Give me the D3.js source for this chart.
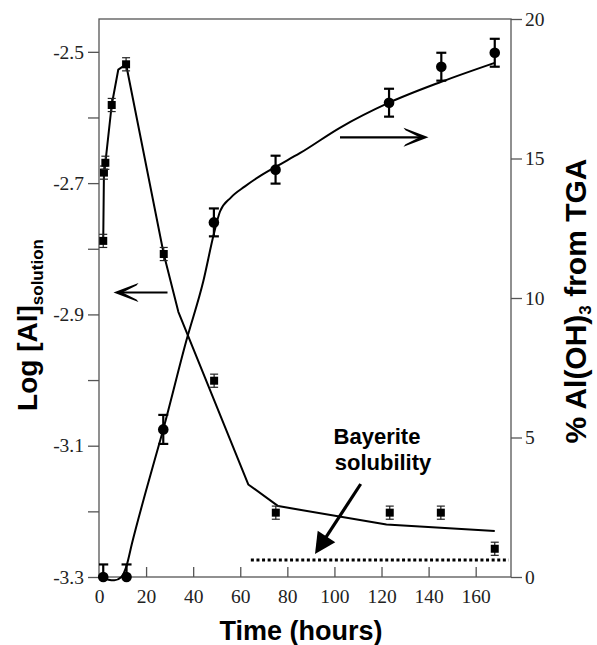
<!DOCTYPE html>
<html>
<head>
<meta charset="utf-8">
<script src="https://cdn.jsdelivr.net/npm/d3@7"></script>
<style>
  html, body { margin: 0; padding: 0; background: #fff; }
  svg { display: block; }
  .tick text { font-family: "Liberation Serif", "Times New Roman", serif; font-size: 19.5px; fill: #222; }
  .title { font-family: "Liberation Sans", Arial, sans-serif; font-weight: bold; fill: #000; }
</style>
</head>
<body>
<svg id="chart" width="597" height="645"></svg>
<script>
// Measured dissolved aluminium (log scale, left axis)
const timeAl   = [1.8, 2.1, 2.7, 5.4, 11.5, 27.5, 48.9, 75.1, 123.5, 145.2, 168.1];
const logAl    = [-2.788, -2.684, -2.669, -2.581, -2.519, -2.808, -3.001, -3.202, -3.202, -3.202, -3.257];
const logAlErr = [0.01, 0.01, 0.01, 0.01, 0.01, 0.01, 0.01, 0.01, 0.01, 0.01, 0.01];

// Model curve for log[Al]
const fitAlTime = [1.8, 2.1, 2.7, 5.4, 8.2, 11.5, 27.5, 33.7, 63.4, 76.1, 122.1, 168.1];
const fitAlLog  = [-2.788, -2.684, -2.669, -2.581, -2.527, -2.519, -2.808, -2.896, -3.159, -3.192, -3.220, -3.230];

// Al(OH)3 content from TGA (right axis)
const timeTGA = [1.8, 11.7, 27.3, 48.8, 75.0, 123.2, 145.4, 168.1];
const pctTGA  = [0, 0, 5.29, 12.71, 14.6, 17.0, 18.29, 18.79];
const pctErr  = [0.45, 0.45, 0.52, 0.5, 0.5, 0.5, 0.5, 0.5];

// Model curve for Al(OH)3 growth
const fitTGATime = [1.8, 4, 6.5, 9.5, 11.7, 14, 20, 27.3, 37.2, 44.3, 48.8, 51.4, 56, 62, 68, 75, 85.3, 102.3, 123.2, 145.4, 168.1];
const fitTGAPct  = [0, -0.1, -0.12, 0, 0.4, 1.2, 3.1, 5.29, 8.5, 10.6, 12.3, 13.1, 13.6, 14.0, 14.35, 14.7, 15.19, 16.1, 17.0, 17.75, 18.43];

// Axis ticks
const xTicks  = [0, 20, 40, 60, 80, 100, 120, 140, 160];
const yLTicks = [-2.5, -2.6, -2.7, -2.8, -2.9, -3.0, -3.1, -3.2, -3.3];
const yLLabels = [-2.5, -2.7, -2.9, -3.1, -3.3];
const yRTicks = [0, 5, 10, 15, 20];

// Bayerite solubility level and its time span
const bayeriteLog = -3.274;
const bayeriteSpan = [64.5, 174];

const svg = d3.select("#chart");
const plotL = 99, plotR = 511, plotT = 19, plotB = 577;

const x  = d3.scaleLinear().domain([0, 175]).range([plotL, plotR]);
const yL = d3.scaleLinear().domain([-3.3, -2.45]).range([plotB, plotT]);
const yR = d3.scaleLinear().domain([0, 20]).range([plotB, plotT]);

const axisColor = "#555";

// Axes
const gx = svg.append("g").attr("transform", `translate(0,${plotB})`)
  .call(d3.axisBottom(x).tickValues(xTicks).tickSizeInner(-10).tickSizeOuter(0).tickPadding(12.5).tickFormat(d3.format("d")));
const gl = svg.append("g").attr("transform", `translate(${plotL},0)`)
  .call(d3.axisLeft(yL).tickValues(yLTicks).tickSizeInner(11).tickSizeOuter(0).tickPadding(4)
    .tickFormat(d => yLLabels.some(v => Math.abs(v - d) < 1e-9) ? d.toFixed(1) : ""));
const gr = svg.append("g").attr("transform", `translate(${plotR},0)`)
  .call(d3.axisRight(yR).tickValues(yRTicks).tickSizeInner(11).tickSizeOuter(0).tickPadding(3));
[gx, gl, gr].forEach(g => {
  g.select(".domain").remove();
  g.selectAll(".tick line").attr("stroke", axisColor).attr("stroke-width", 1.3);
});
gx.select(".tick:first-of-type line").remove();

// Frame
svg.append("rect").attr("x", plotL).attr("y", plotT).attr("width", plotR - plotL).attr("height", plotB - plotT)
  .attr("fill", "none").attr("stroke", axisColor).attr("stroke-width", 1.3);

// Clip for error bars
svg.append("clipPath").attr("id", "plotclip").append("rect")
  .attr("x", plotL).attr("y", plotT).attr("width", plotR - plotL).attr("height", plotB - plotT);

// Bayerite solubility dotted line
svg.append("line")
  .attr("x1", x(bayeriteSpan[0])).attr("x2", x(bayeriteSpan[1]))
  .attr("y1", yL(bayeriteLog)).attr("y2", yL(bayeriteLog))
  .attr("stroke", "#000").attr("stroke-width", 3).attr("stroke-dasharray", "3,2.6");

// Model curves
svg.append("path")
  .datum(fitAlTime.map((t, i) => [t, fitAlLog[i]]))
  .attr("d", d3.line().x(d => x(d[0])).y(d => yL(d[1])))
  .attr("fill", "none").attr("stroke", "#000").attr("stroke-width", 2).attr("stroke-linejoin", "round");

svg.append("path")
  .datum(fitTGATime.map((t, i) => [t, fitTGAPct[i]]))
  .attr("d", d3.line().curve(d3.curveMonotoneX).x(d => x(d[0])).y(d => yR(d[1])))
  .attr("fill", "none").attr("stroke", "#000").attr("stroke-width", 2);

// Square markers with error bars (log[Al])
const sq = svg.append("g");
timeAl.forEach((t, i) => {
  const cx = x(t), y0 = yL(logAl[i] - logAlErr[i]), y1 = yL(logAl[i] + logAlErr[i]);
  const g = sq.append("g").attr("stroke", "#222").attr("stroke-width", 1.2);
  g.append("line").attr("x1", cx).attr("x2", cx).attr("y1", y0).attr("y2", y1);
  g.append("line").attr("x1", cx - 4).attr("x2", cx + 4).attr("y1", y0).attr("y2", y0);
  g.append("line").attr("x1", cx - 4).attr("x2", cx + 4).attr("y1", y1).attr("y2", y1);
  sq.append("rect").attr("x", cx - 4).attr("y", yL(logAl[i]) - 4).attr("width", 8).attr("height", 8).attr("fill", "#000");
});

// Circle markers with error bars (TGA)
const ci = svg.append("g");
timeTGA.forEach((t, i) => {
  const cx = x(t), y0 = yR(pctTGA[i] - pctErr[i]), y1 = yR(pctTGA[i] + pctErr[i]);
  const g = ci.append("g").attr("stroke", "#000").attr("stroke-width", 2.2).attr("clip-path", "url(#plotclip)");
  g.append("line").attr("x1", cx).attr("x2", cx).attr("y1", y0).attr("y2", y1);
  g.append("line").attr("x1", cx - 5).attr("x2", cx + 5).attr("y1", y0).attr("y2", y0);
  g.append("line").attr("x1", cx - 5).attr("x2", cx + 5).attr("y1", y1).attr("y2", y1);
  ci.append("circle").attr("cx", cx).attr("cy", yR(pctTGA[i])).attr("r", 5.3).attr("fill", "#000");
});

// Direction arrows
function chevronArrow(x1, x2, y, dir) {
  const tip = dir < 0 ? Math.min(x1, x2) : Math.max(x1, x2);
  const tail = dir < 0 ? Math.max(x1, x2) : Math.min(x1, x2);
  svg.append("line").attr("x1", tail).attr("x2", tip - dir * 6).attr("y1", y).attr("y2", y)
    .attr("stroke", "#000").attr("stroke-width", 2.2);
  const s = -dir;
  svg.append("path")
    .attr("d", `M${tip},${y} L${tip + s * 25},${y - 9.5} L${tip + s * 23},${y - 7} L${tip + s * 9},${y} L${tip + s * 23},${y + 7} L${tip + s * 25},${y + 9.5} Z`)
    .attr("fill", "#000");
}
chevronArrow(113.5, 167.5, 292.5, -1);
chevronArrow(340, 428.5, 137.3, 1);

// Bayerite annotation arrow
const ax0 = 360.7, ay0 = 484, ax1 = 315, ay1 = 554;
const len = Math.hypot(ax1 - ax0, ay1 - ay0), ux = (ax1 - ax0) / len, uy = (ay1 - ay0) / len;
const hl = 21, hw = 10.5;
const bx = ax1 - ux * hl, by = ay1 - uy * hl;
svg.append("line").attr("x1", ax0).attr("y1", ay0).attr("x2", bx + ux * 2).attr("y2", by + uy * 2)
  .attr("stroke", "#000").attr("stroke-width", 3.2);
svg.append("path")
  .attr("d", `M${ax1},${ay1} L${bx - uy * hw},${by + ux * hw} L${bx + uy * hw},${by - ux * hw} Z`)
  .attr("fill", "#000");

const note = svg.append("text").attr("class", "title").attr("font-size", 22);
note.append("tspan").attr("x", 377).attr("y", 444).attr("text-anchor", "middle").text("Bayerite");
note.append("tspan").attr("x", 383).attr("y", 470).attr("text-anchor", "middle").text("solubility");

// Axis titles
svg.append("text").attr("class", "title").attr("font-size", 27)
  .attr("x", 301).attr("y", 640).attr("text-anchor", "middle").text("Time (hours)");

const lt = svg.append("text").attr("class", "title").attr("font-size", 28)
  .attr("transform", "translate(37,325) rotate(-90)").attr("text-anchor", "middle");
lt.append("tspan").text("Log [Al]");
lt.append("tspan").attr("font-size", 17).attr("dy", 6).text("solution");

const rt = svg.append("text").attr("class", "title").attr("font-size", 30)
  .attr("transform", "translate(586,301) rotate(-90)").attr("text-anchor", "middle");
rt.append("tspan").text("% Al(OH)");
rt.append("tspan").attr("font-size", 17).attr("dy", 5).text("3");
rt.append("tspan").attr("dy", -5).text(" from TGA");
</script>
</body>
</html>
